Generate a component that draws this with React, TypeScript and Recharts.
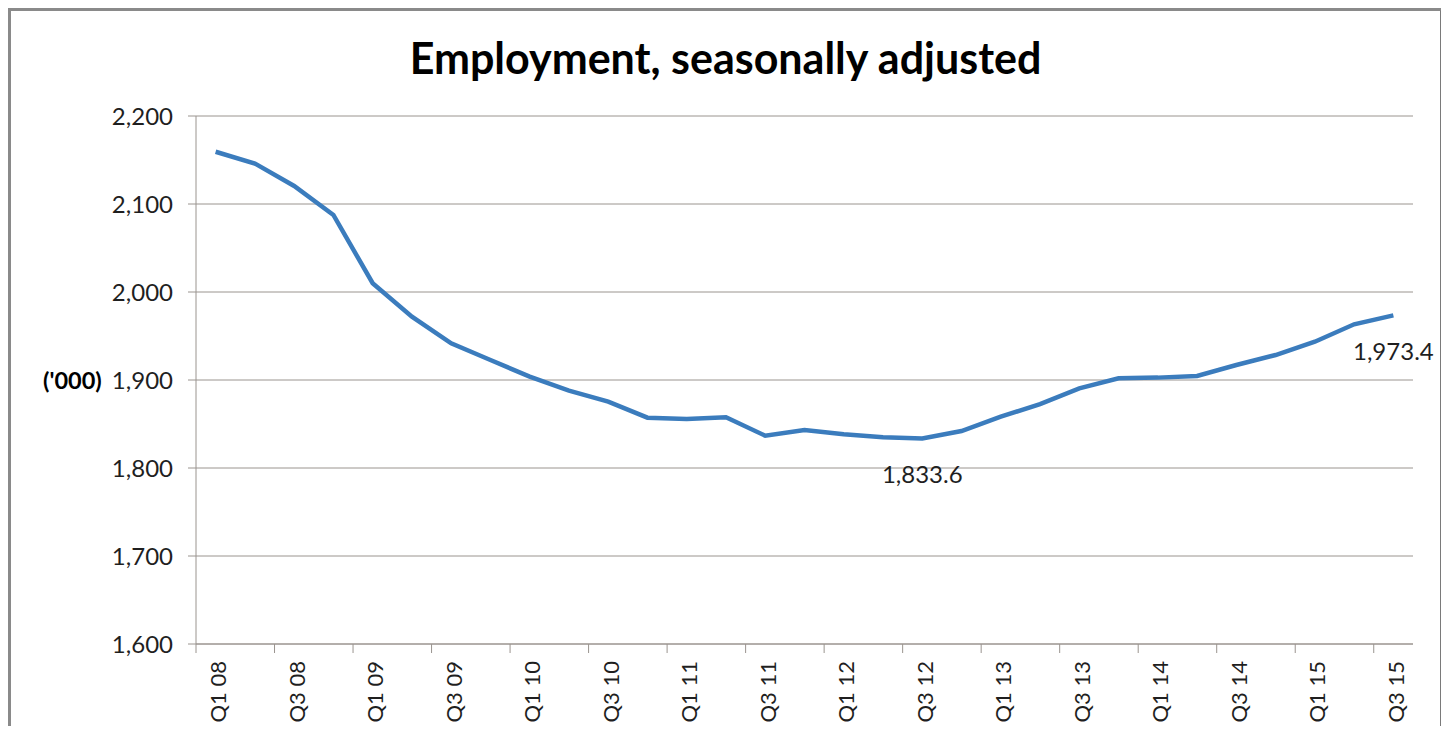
import { LineChart, Line, XAxis, YAxis, CartesianGrid, LabelList } from 'recharts';

// quarterly employment, seasonally adjusted ('000)
const quarters = [
  'Q1 08', 'Q2 08', 'Q3 08', 'Q4 08',
  'Q1 09', 'Q2 09', 'Q3 09', 'Q4 09',
  'Q1 10', 'Q2 10', 'Q3 10', 'Q4 10',
  'Q1 11', 'Q2 11', 'Q3 11', 'Q4 11',
  'Q1 12', 'Q2 12', 'Q3 12', 'Q4 12',
  'Q1 13', 'Q2 13', 'Q3 13', 'Q4 13',
  'Q1 14', 'Q2 14', 'Q3 14', 'Q4 14',
  'Q1 15', 'Q2 15', 'Q3 15',
];

const employment = [
  2159.4, 2146.0, 2120.5, 2087.5,
  2010.0, 1972.0, 1941.7, 1922.7,
  1903.8, 1888.0, 1875.4, 1857.2,
  1855.7, 1857.6, 1836.7, 1843.2,
  1838.3, 1834.9, 1833.6, 1842.0,
  1858.3, 1872.7, 1890.5, 1901.9,
  1902.7, 1904.5, 1917.0, 1928.4,
  1943.5, 1963.3, 1973.4,
];

const yTicks = [1600, 1700, 1800, 1900, 2000, 2100, 2200];
const labelledQuarters = ['Q3 12', 'Q3 15'];

const data = quarters.map((q, i) => ({
  quarter: q,
  value: employment[i],
  label: labelledQuarters.includes(q) ? employment[i] : null,
}));

const CHART_W = 1433;
const CHART_H = 718;
const MARGIN = { top: 108, right: 28, bottom: 0, left: 0 };
const Y_AXIS_W = 188;
const PLOT_W = CHART_W - MARGIN.left - MARGIN.right - Y_AXIS_W;
const BAND = PLOT_W / quarters.length;

const FONT = 'Lato, "Open Sans", sans-serif';
const AXIS = '#9a948f';
const TEXT = '#1f1f1f';
const BLUE = '#3b7cbd';

const fmt = (v: number, digits = 0) =>
  v.toLocaleString('en-US', { minimumFractionDigits: digits, maximumFractionDigits: digits });

function QuarterTick({ x, y, payload }: any) {
  return (
    <g>
      <line x1={x - BAND / 2} x2={x - BAND / 2} y1={y} y2={y + 9} stroke={AXIS} strokeWidth={1} />
      <g transform={`translate(${x + 2},${y + 17}) rotate(-90)`}>
        <text
          textAnchor="end"
          dominantBaseline="central"
          fontFamily={FONT}
          fontSize={22}
          fill={TEXT}
        >
          {payload.value}
        </text>
      </g>
    </g>
  );
}

function PointLabel({ x, y, value }: any) {
  if (value == null) return null;
  return (
    <text
      x={x}
      y={y + 35}
      textAnchor="middle"
      dominantBaseline="central"
      fontFamily={FONT}
      fontSize={24}
      fill={TEXT}
    >
      {fmt(value, 1)}
    </text>
  );
}

export default function App() {
  return (
    <div style={{ position: 'relative', width: CHART_W, height: CHART_H }}>
      <style>{'body{overflow:hidden}'}</style>
      <div
        style={{
          position: 'absolute',
          left: 0,
          top: 0,
          width: 1435,
          height: CHART_H + 20,
          boxSizing: 'border-box',
          borderTop: '3px solid #8a8a8a',
          borderLeft: '3px solid #8a8a8a',
          borderRight: '3px solid #7a7a7a',
        }}
      />
      <div
        style={{
          position: 'absolute',
          left: 3,
          width: 1429,
          top: 28,
          textAlign: 'center',
          fontFamily: FONT,
          fontWeight: 700,
          fontSize: 43,
          lineHeight: '43px',
          color: '#000',
        }}
      >
        Employment, seasonally adjusted
      </div>
      <div
        style={{
          position: 'absolute',
          left: 35,
          top: 360,
          fontFamily: FONT,
          fontWeight: 700,
          fontSize: 23.5,
          lineHeight: '24px',
          color: '#000',
        }}
      >
        ('000)
      </div>
      <LineChart width={CHART_W} height={CHART_H} data={data} margin={MARGIN}>
        <CartesianGrid vertical={false} stroke={AXIS} strokeWidth={1} />
        <XAxis
          dataKey="quarter"
          interval={1}
          padding={{ left: BAND / 2, right: BAND / 2 }}
          height={82}
          tickSize={0}
          tickMargin={0}
          tickLine={false}
          axisLine={{ stroke: AXIS }}
          tick={<QuarterTick />}
        />
        <YAxis
          width={Y_AXIS_W}
          domain={[1600, 2200]}
          ticks={yTicks}
          tickFormatter={(v: number) => fmt(v)}
          tickSize={8}
          tickMargin={15}
          tickLine={{ stroke: AXIS }}
          axisLine={{ stroke: AXIS }}
          tick={{ fontFamily: FONT, fontSize: 24, fill: TEXT }}
        />
        <Line
          type="linear"
          dataKey="value"
          stroke={BLUE}
          strokeWidth={4.5}
          dot={false}
          activeDot={false}
          isAnimationActive={false}
        >
          <LabelList dataKey="label" content={<PointLabel />} />
        </Line>
      </LineChart>
    </div>
  );
}
